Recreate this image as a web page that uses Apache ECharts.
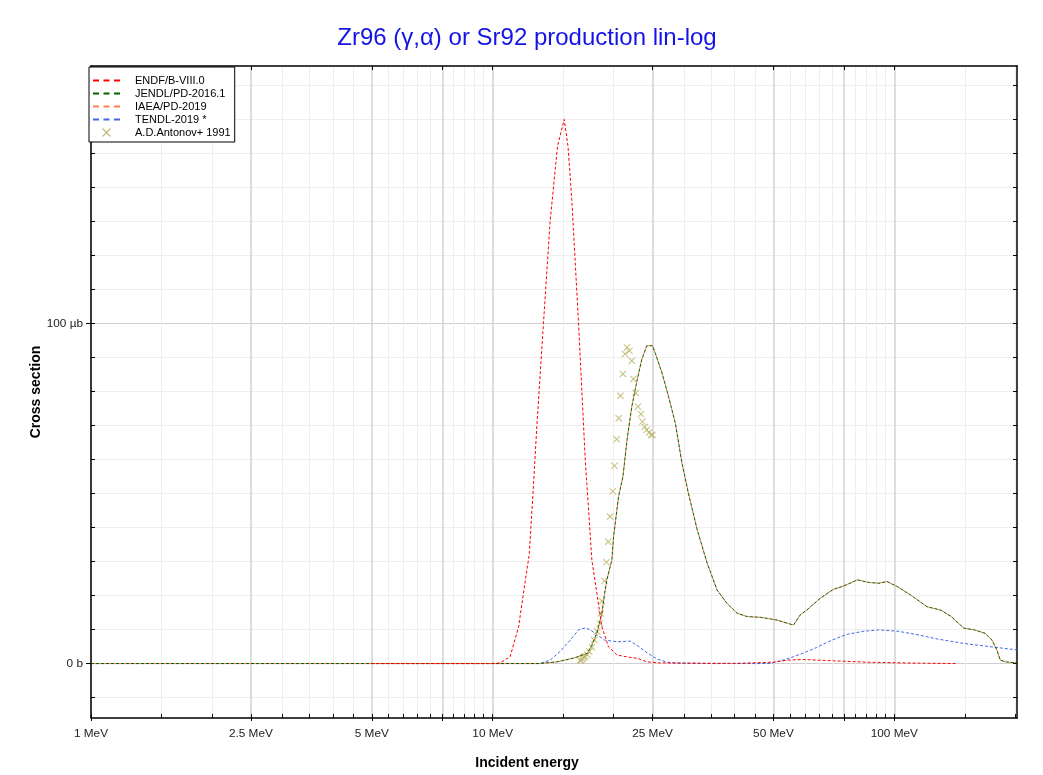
<!DOCTYPE html>
<html>
	<head>
		<meta charset="UTF-8">
		<title>Zr96 (γ,α) or Sr92 production</title>
		<style>
			html, body { margin: 0; padding: 0; background: #fff; }
			#main { width: 1043px; height: 775px; }
		</style>
	</head>
	<body>
		<div id="main"></div>
		<script src="https://cdn.jsdelivr.net/npm/echarts@6/dist/echarts.min.js"></script>
		<script type="text/javascript">
			// energies in MeV, cross sections in µb
			var endfE = [5, 10.0, 10.44, 11.05, 11.6, 11.93, 12.33, 12.6, 12.88, 13.38, 13.9, 14.5, 15.07, 15.4, 15.74, 16.36, 17.0, 17.66, 18.17, 18.7, 19.43, 20.4, 22.0, 23.0, 24.2, 26, 30, 40, 50, 54, 59.4, 70.5, 85.5, 110, 142];
			var endfV = [0, 0, 0.2, 2.0, 10.8, 20.6, 32, 50, 69.6, 100, 129.9, 152, 159.9, 152, 136.3, 100, 59.9, 30.4, 20.6, 10.8, 4.9, 2.5, 1.8, 1.5, 0.5, 0.2, 0.1, 0.05, 0.4, 1.0, 1.2, 0.8, 0.4, 0.15, 0];

			var jendlE = [1, 13.1, 14.45, 15.9, 17.2, 17.66, 18.17, 18.7, 19.0, 19.24, 19.8, 20.0, 20.58, 21.1, 21.6, 22.2, 22.9, 23.5, 24.2, 25.0, 25.4, 26.4, 27.4, 28.5, 29.6, 30.7, 32.3, 34.2, 36.2, 38.3, 40.6, 43.0, 46.4, 51.0, 56.1, 58.3, 60.5, 65.4, 70.5, 74.8, 80.9, 86.7, 91.5, 95.9, 101.8, 109.9, 120.6, 130.5, 138.6, 148.9, 158.2, 168.2, 175, 180, 183.6, 189.1, 202];
			var jendlV = [0, 0, 0.5, 1.6, 3.0, 5.4, 8.9, 14.8, 20.6, 24.6, 30.4, 37.3, 49.1, 54.9, 65.7, 75.5, 83.4, 89.3, 93.4, 93.4, 91.2, 85.4, 78.5, 70.6, 58.9, 50.1, 39.3, 29.5, 21.6, 17.7, 14.8, 13.8, 13.6, 12.8, 11.3, 14.3, 15.7, 19.2, 21.8, 22.8, 24.6, 23.8, 23.6, 24.1, 22.6, 20.1, 16.7, 15.7, 13.8, 10.4, 9.9, 8.9, 6.9, 4.0, 1.0, 0.5, 0.2];

			// IAEA/PD-2019 lies on top of JENDL
			var iaeaE = jendlE;
			var iaeaV = jendlV;

			var tendlE = [1, 13.1, 13.9, 14.7, 15.6, 16.36, 17.0, 17.5, 18.2, 19.0, 20.4, 22.0, 23.1, 24.2, 25.7, 27.2, 28.3, 35, 45, 49.0, 52.8, 56.1, 60, 64, 69, 76.3, 84, 91.5, 102, 114, 128, 149, 175, 202];
			var tendlV = [0, 0, 1.0, 3.5, 6.9, 9.9, 10.5, 9.9, 8.4, 6.9, 6.4, 6.6, 5.0, 3.2, 1.3, 0.4, 0.2, 0, 0, 0, 1.0, 2.0, 3.3, 4.7, 6.6, 8.6, 9.5, 9.9, 9.5, 8.5, 7.2, 5.9, 4.9, 4.0];

			var antonovE = [16.5, 16.6, 16.7, 16.8, 16.9, 17.0, 17.2, 17.4, 17.66, 17.9, 18.2, 18.5, 18.6, 18.7, 18.97, 19.2, 19.4, 19.6, 19.9, 20.1, 20.35, 20.6, 20.8, 21.1, 21.35, 21.6, 21.9, 22.2, 22.4, 22.7, 23.0, 23.4, 23.6, 23.9, 24.2, 24.5, 24.8, 25.0];
			var antonovV = [1.0, 0.8, 1.3, 1.6, 1.9, 2.1, 2.6, 3.5, 4.8, 6.9, 9.4, 11.8, 14.7, 18.4, 24.3, 29.8, 35.8, 43.2, 50.6, 58.1, 65.9, 72.1, 78.7, 85.1, 91.0, 92.9, 91.9, 89.0, 83.6, 79.5, 75.5, 73.3, 71.1, 69.5, 68.7, 67.9, 67.2, 67.2];

			// axis ticks
			var xTicks = [1, 1.5, 2, 2.5, 3, 3.5, 4, 4.5, 5, 5.5, 6, 6.5, 7, 7.5, 8, 8.5, 9, 9.5, 10, 15, 20, 25, 30, 35, 40, 45, 50, 55, 60, 65, 70, 75, 80, 85, 90, 95, 100, 150, 200];
			var xMajor = [1, 2.5, 5, 7.5, 10, 25, 50, 75, 100];
			var xLabels = [1, 2.5, 5, 10, 25, 50, 100];
			var yTicks = [-10, 0, 10, 20, 30, 40, 50, 60, 70, 80, 90, 100, 110, 120, 130, 140, 150, 160, 170];
			var yMajor = [0, 100];
			var yLabels = [0, 100];

			function pairs(xs, ys) {
				var out = [];
				for (var i = 0; i < xs.length; i++) {
					out.push([xs[i], ys[i]]);
				}
				return out;
			}

			var font = 'Liberation Sans, Arial, sans-serif';
			var xMin = 1, xMax = 202;
			var yMin = -16, yMax = 175.6;
			var cross = 'path://M0,1L1,0L5,4L9,0L10,1L6,5L10,9L9,10L5,6L1,10L0,9L4,5Z';
			// three dashes for the legend
			var dashIcon = 'path://M0,0h6v2h-6zM10.5,0h6v2h-6zM21,0h6v2h-6z';

			function lineSeries(name, xs, ys, color, offset) {
				return {
					name: name,
					type: 'line',
					data: pairs(xs, ys),
					symbol: 'none',
					lineStyle: { color: color, width: 1, type: [3, 2], dashOffset: offset || 0 },
					itemStyle: { color: color }
				};
			}

			var myChart = echarts.init(document.getElementById('main'));
			var option = {
				animation: false,
				backgroundColor: '#fff',
				textStyle: { fontFamily: font },
				title: [
					{
						text: 'Zr96 (γ,α) or Sr92 production lin-log',
						left: 527, top: 26, textAlign: 'center', padding: 0,
						textStyle: { color: '#1414e6', fontSize: 24, fontWeight: 'normal', fontFamily: font }
					},
					{
						text: 'Incident energy',
						left: 527, top: 756, textAlign: 'center', padding: 0,
						textStyle: { color: '#000', fontSize: 14, fontWeight: 'bold', fontFamily: font }
					}
				],
				legend: {
					orient: 'vertical',
					left: 89, top: 67,
					padding: [8, 4, 4, 4],
					itemWidth: 27, itemHeight: 9, itemGap: 2,
					backgroundColor: '#fff',
					borderColor: '#000', borderWidth: 1, borderRadius: 0,
					textStyle: { fontSize: 11, color: '#000', fontFamily: font, padding: [0, 0, 0, 10] },
					data: [
						{ name: 'ENDF/B-VIII.0', icon: dashIcon },
						{ name: 'JENDL/PD-2016.1', icon: dashIcon },
						{ name: 'IAEA/PD-2019', icon: dashIcon },
						{ name: 'TENDL-2019 *', icon: dashIcon },
						'A.D.Antonov+ 1991'
					]
				},
				grid: { left: 91, right: 26, top: 66, bottom: 57 },
				xAxis: [
					{
						type: 'log', logBase: 10, min: xMin, max: xMax, position: 'bottom',
						axisLine: { onZero: false, lineStyle: { color: '#000', width: 1.5 } },
						axisTick: { inside: true, length: 4, customValues: xTicks, lineStyle: { color: '#000' } },
						axisLabel: {
							customValues: xLabels, margin: 10, fontSize: 11.8, color: '#222',
							formatter: function (v) { return (+v.toPrecision(3)) + ' MeV'; }
						},
						splitLine: { show: true, lineStyle: { color: '#eeeeee', width: 1 } }
					},
					{
						type: 'log', logBase: 10, min: xMin, max: xMax, position: 'bottom',
						axisLine: { show: false, onZero: false },
						axisTick: { inside: false, length: 3, customValues: xMajor, lineStyle: { color: '#000' } },
						axisLabel: { show: false },
						splitLine: { show: true, lineStyle: { color: '#d4d4d4', width: 1.5 } }
					},
					{
						type: 'log', logBase: 10, min: xMin, max: xMax, position: 'top',
						axisLine: { onZero: false, lineStyle: { color: '#000', width: 1.5 } },
						axisTick: { inside: true, length: 4, customValues: xMajor, lineStyle: { color: '#000' } },
						axisLabel: { show: false },
						splitLine: { show: false }
					}
				],
				yAxis: [
					{
						type: 'value', min: yMin, max: yMax, position: 'left',
						name: 'Cross section', nameLocation: 'middle', nameGap: 48, nameRotate: 90,
						nameMoveOverlap: false,
						nameTextStyle: { color: '#000', fontSize: 14, fontWeight: 'bold', fontFamily: font },
						axisLine: { show: true, onZero: false, lineStyle: { color: '#000', width: 1.5 } },
						axisTick: { show: true, inside: true, length: 4, customValues: yTicks, lineStyle: { color: '#000' } },
						axisLabel: {
							customValues: yLabels, margin: 8, fontSize: 11.8, color: '#222',
							formatter: function (v) { return v === 0 ? '0 b' : v + ' µb'; }
						},
						splitLine: { show: true, lineStyle: { color: '#eeeeee', width: 1 } }
					},
					{
						type: 'value', min: yMin, max: yMax, position: 'left',
						axisLine: { show: false, onZero: false },
						axisTick: { show: true, inside: false, length: 5, customValues: yMajor, lineStyle: { color: '#000' } },
						axisLabel: { show: false },
						splitLine: { show: true, lineStyle: { color: '#cfcfcf', width: 1.2 } }
					},
					{
						type: 'value', min: yMin, max: yMax, position: 'right',
						axisLine: { show: true, onZero: false, lineStyle: { color: '#000', width: 1.5 } },
						axisTick: { show: true, inside: true, length: 4, customValues: yTicks, lineStyle: { color: '#000' } },
						axisLabel: { show: false },
						splitLine: { show: false }
					}
				],
				series: [
					lineSeries('TENDL-2019 *', tendlE, tendlV, '#4169e1'),
					lineSeries('IAEA/PD-2019', iaeaE, iaeaV, '#ff7f50', 3),
					lineSeries('JENDL/PD-2016.1', jendlE, jendlV, '#006400'),
					lineSeries('ENDF/B-VIII.0', endfE, endfV, '#ff0000'),
					{
						name: 'A.D.Antonov+ 1991',
						type: 'scatter',
						data: pairs(antonovE, antonovV),
						symbol: cross,
						symbolSize: 7,
						symbolKeepAspect: true,
						itemStyle: { color: '#bdb76b', opacity: 0.9 }
					}
				]
			};
			myChart.setOption(option);
		</script>
	</body>
</html>
